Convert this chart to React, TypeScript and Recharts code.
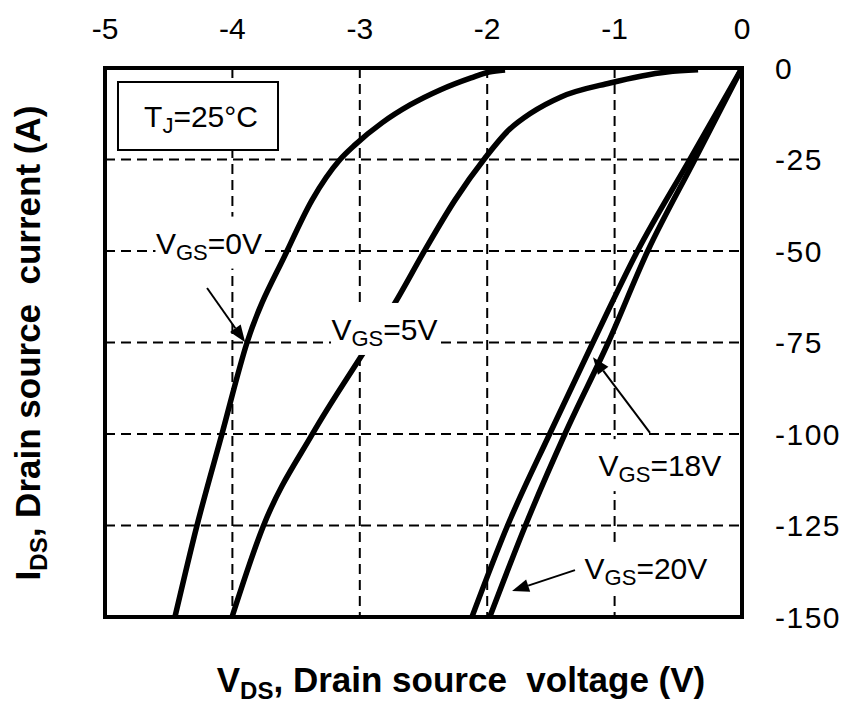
import React from "react";
import {
  CartesianGrid,
  Line,
  LineChart,
  ReferenceArea,
  ReferenceDot,
  ReferenceLine,
  XAxis,
  YAxis,
} from "recharts";

const FONT = "'Liberation Sans', Arial, Helvetica, sans-serif";

type Pt = { v: number; i: number };

// V_DS (V) vs I_DS (A)
const vgs0: Pt[] = [
  { v: -4.451, i: -150 },
  { v: -4.278, i: -125 },
  { v: -4.082, i: -100 },
  { v: -3.885, i: -75 },
  { v: -3.571, i: -50 },
  { v: -3.375, i: -36.1 },
  { v: -3.155, i: -25 },
  { v: -3.038, i: -21 },
  { v: -2.826, i: -15 },
  { v: -2.606, i: -10.1 },
  { v: -2.37, i: -6 },
  { v: -2.127, i: -2.7 },
  { v: -1.986, i: -1.1 },
  { v: -1.86, i: -0.55 },
];

const vgs5: Pt[] = [
  { v: -4.003, i: -150 },
  { v: -3.76, i: -125.4 },
  { v: -3.367, i: -99.7 },
  { v: -2.983, i: -78.4 },
  { v: -2.724, i: -64.2 },
  { v: -2.488, i: -49.7 },
  { v: -2.253, i: -36.1 },
  { v: -2.017, i: -24.6 },
  { v: -1.829, i: -16.9 },
  { v: -1.656, i: -12.3 },
  { v: -1.421, i: -7.9 },
  { v: -1.036, i: -4.1 },
  { v: -0.589, i: -1.1 },
  { v: -0.345, i: -0.5 },
];

const vgs18: Pt[] = [
  { v: -2.12, i: -150 },
  { v: -1.84, i: -125 },
  { v: -1.51, i: -100 },
  { v: -1.17, i: -75 },
  { v: -0.82, i: -50 },
  { v: -0.41, i: -25 },
  { v: 0, i: 0 },
];

const vgs20: Pt[] = [
  { v: -1.98, i: -150 },
  { v: -1.7, i: -125 },
  { v: -1.39, i: -100 },
  { v: -1.05, i: -75 },
  { v: -0.74, i: -50 },
  { v: -0.37, i: -25 },
  { v: 0, i: 0 },
];

const xTicks = [-5, -4, -3, -2, -1, 0];
const yTicks = [0, -25, -50, -75, -100, -125, -150];

// curve labels (anchor = text centre, in data units)
const curveLabels = [
  { key: "l0", rest: "=0V", v: -4.184, i: -47.7 },
  { key: "l5", rest: "=5V", v: -2.806, i: -71.3 },
  { key: "l18", rest: "=18V", v: -0.644, i: -108.5 },
  { key: "l20", rest: "=20V", v: -0.754, i: -136.6 },
];

const arrows = [
  { key: "a0", from: { v: -4.199, i: -60.1 }, to: { v: -3.9, i: -74.9 } },
  { key: "a18", from: { v: -0.722, i: -99.7 }, to: { v: -1.17, i: -79 } },
  { key: "a20", from: { v: -1.311, i: -137.2 }, to: { v: -1.805, i: -142.9 } },
];

const tjBox = { v1: -4.898, v2: -3.642, i1: -22.4, i2: -3.8 };

const ArrowShape = (p: any) => {
  const { x1, y1, x2, y2 } = p;
  const dx = x2 - x1;
  const dy = y2 - y1;
  const len = Math.sqrt(dx * dx + dy * dy) || 1;
  const ux = dx / len;
  const uy = dy / len;
  const hl = 17;
  const hw = 6.5;
  const bx = x2 - ux * hl;
  const by = y2 - uy * hl;
  const pts = `${x2},${y2} ${bx - uy * hw},${by + ux * hw} ${bx + uy * hw},${by - ux * hw}`;
  return (
    <g>
      <line x1={x1} y1={y1} x2={bx} y2={by} stroke="#000" strokeWidth={2} />
      <polygon points={pts} fill="#000" />
    </g>
  );
};

const makeLabelShape = (rest: string) => (p: any) => {
  const { cx, cy } = p;
  const w = 40 + rest.length * 17;
  return (
    <g>
      <rect x={cx - w / 2 - 8} y={cy - 26} width={w + 16} height={52} fill="#fff" />
      <text
        x={cx}
        y={cy + 11}
        textAnchor="middle"
        fontSize={30}
        fontFamily={FONT}
        fill="#000"
      >
        V
        <tspan fontSize={22} dy={6}>
          GS
        </tspan>
        <tspan dy={-6}>{rest}</tspan>
      </text>
    </g>
  );
};

const TjLabel = (p: any) => {
  const vb = p.viewBox || {};
  const cx = vb.x + vb.width / 2 + 3;
  const cy = vb.y + vb.height / 2;
  return (
    <text x={cx} y={cy + 11} textAnchor="middle" fontSize={30} fontFamily={FONT} fill="#000">
      T
      <tspan fontSize={22} dy={6}>
        J
      </tspan>
      <tspan dy={-6}>=25°C</tspan>
    </text>
  );
};

export default function App() {
  return (
    <div style={{ position: "absolute", left: 0, top: 0, width: 855, height: 706, background: "#fff" }}>
      <LineChart
        width={855}
        height={706}
        margin={{ top: 8, right: 13, bottom: 89, left: 105 }}
        style={{ fontFamily: FONT }}
      >
        <CartesianGrid stroke="#000" strokeWidth={2} strokeDasharray="10 6" />
        <XAxis
          type="number"
          dataKey="v"
          orientation="top"
          domain={[-5, 0]}
          ticks={xTicks}
          height={60}
          axisLine={false}
          tickLine={false}
          tickSize={0}
          tickMargin={29}
          tick={{ fill: "#000", fontSize: 30, fontFamily: FONT }}
          allowDataOverflow
        />
        <YAxis
          type="number"
          dataKey="i"
          orientation="right"
          domain={[-150, 0]}
          ticks={yTicks}
          width={100}
          axisLine={false}
          tickLine={false}
          tickSize={0}
          tickMargin={33}
          tick={{ fill: "#000", fontSize: 30, fontFamily: FONT, textAnchor: "start", letterSpacing: 1.5 }}
          allowDataOverflow
        />
        <ReferenceArea
          x1={tjBox.v1}
          x2={tjBox.v2}
          y1={tjBox.i1}
          y2={tjBox.i2}
          fill="#fff"
          fillOpacity={1}
          stroke="#000"
          strokeWidth={2}
          label={<TjLabel />}
        />
        <Line data={vgs0} dataKey="i" type="monotone" stroke="#000" strokeWidth={5.5} dot={false} isAnimationActive={false} />
        <Line data={vgs5} dataKey="i" type="monotone" stroke="#000" strokeWidth={5.5} dot={false} isAnimationActive={false} />
        <Line data={vgs18} dataKey="i" type="monotone" stroke="#000" strokeWidth={5.5} dot={false} isAnimationActive={false} />
        <Line data={vgs20} dataKey="i" type="monotone" stroke="#000" strokeWidth={5.5} dot={false} isAnimationActive={false} />
        {arrows.map((a) => (
          <ReferenceLine
            key={a.key}
            segment={[
              { x: a.from.v, y: a.from.i },
              { x: a.to.v, y: a.to.i },
            ]}
            shape={ArrowShape}
          />
        ))}
        {curveLabels.map((l) => (
          <ReferenceDot key={l.key} x={l.v} y={l.i} r={0} shape={makeLabelShape(l.rest)} />
        ))}
        <ReferenceArea x1={-5} x2={0} y1={-150} y2={0} fill="none" stroke="#000" strokeWidth={4} />
      </LineChart>
      <svg
        width={855}
        height={706}
        style={{ position: "absolute", left: 0, top: 0, pointerEvents: "none" }}
      >
        <text
          x={461}
          y={692}
          textAnchor="middle"
          fontSize={35}
          fontWeight="bold"
          fontFamily={FONT}
          fill="#000"
          style={{ whiteSpace: "pre" }}
        >
          V
          <tspan fontSize={24} dy={7}>
            DS
          </tspan>
          <tspan dy={-7}>{", Drain source  voltage (V)"}</tspan>
        </text>
        <text
          x={40}
          y={343}
          transform="rotate(-90 40 343)"
          textAnchor="middle"
          fontSize={35}
          fontWeight="bold"
          fontFamily={FONT}
          fill="#000"
          style={{ whiteSpace: "pre" }}
        >
          I
          <tspan fontSize={24} dy={7}>
            DS
          </tspan>
          <tspan dy={-7}>{", Drain source  current (A)"}</tspan>
        </text>
      </svg>
    </div>
  );
}
